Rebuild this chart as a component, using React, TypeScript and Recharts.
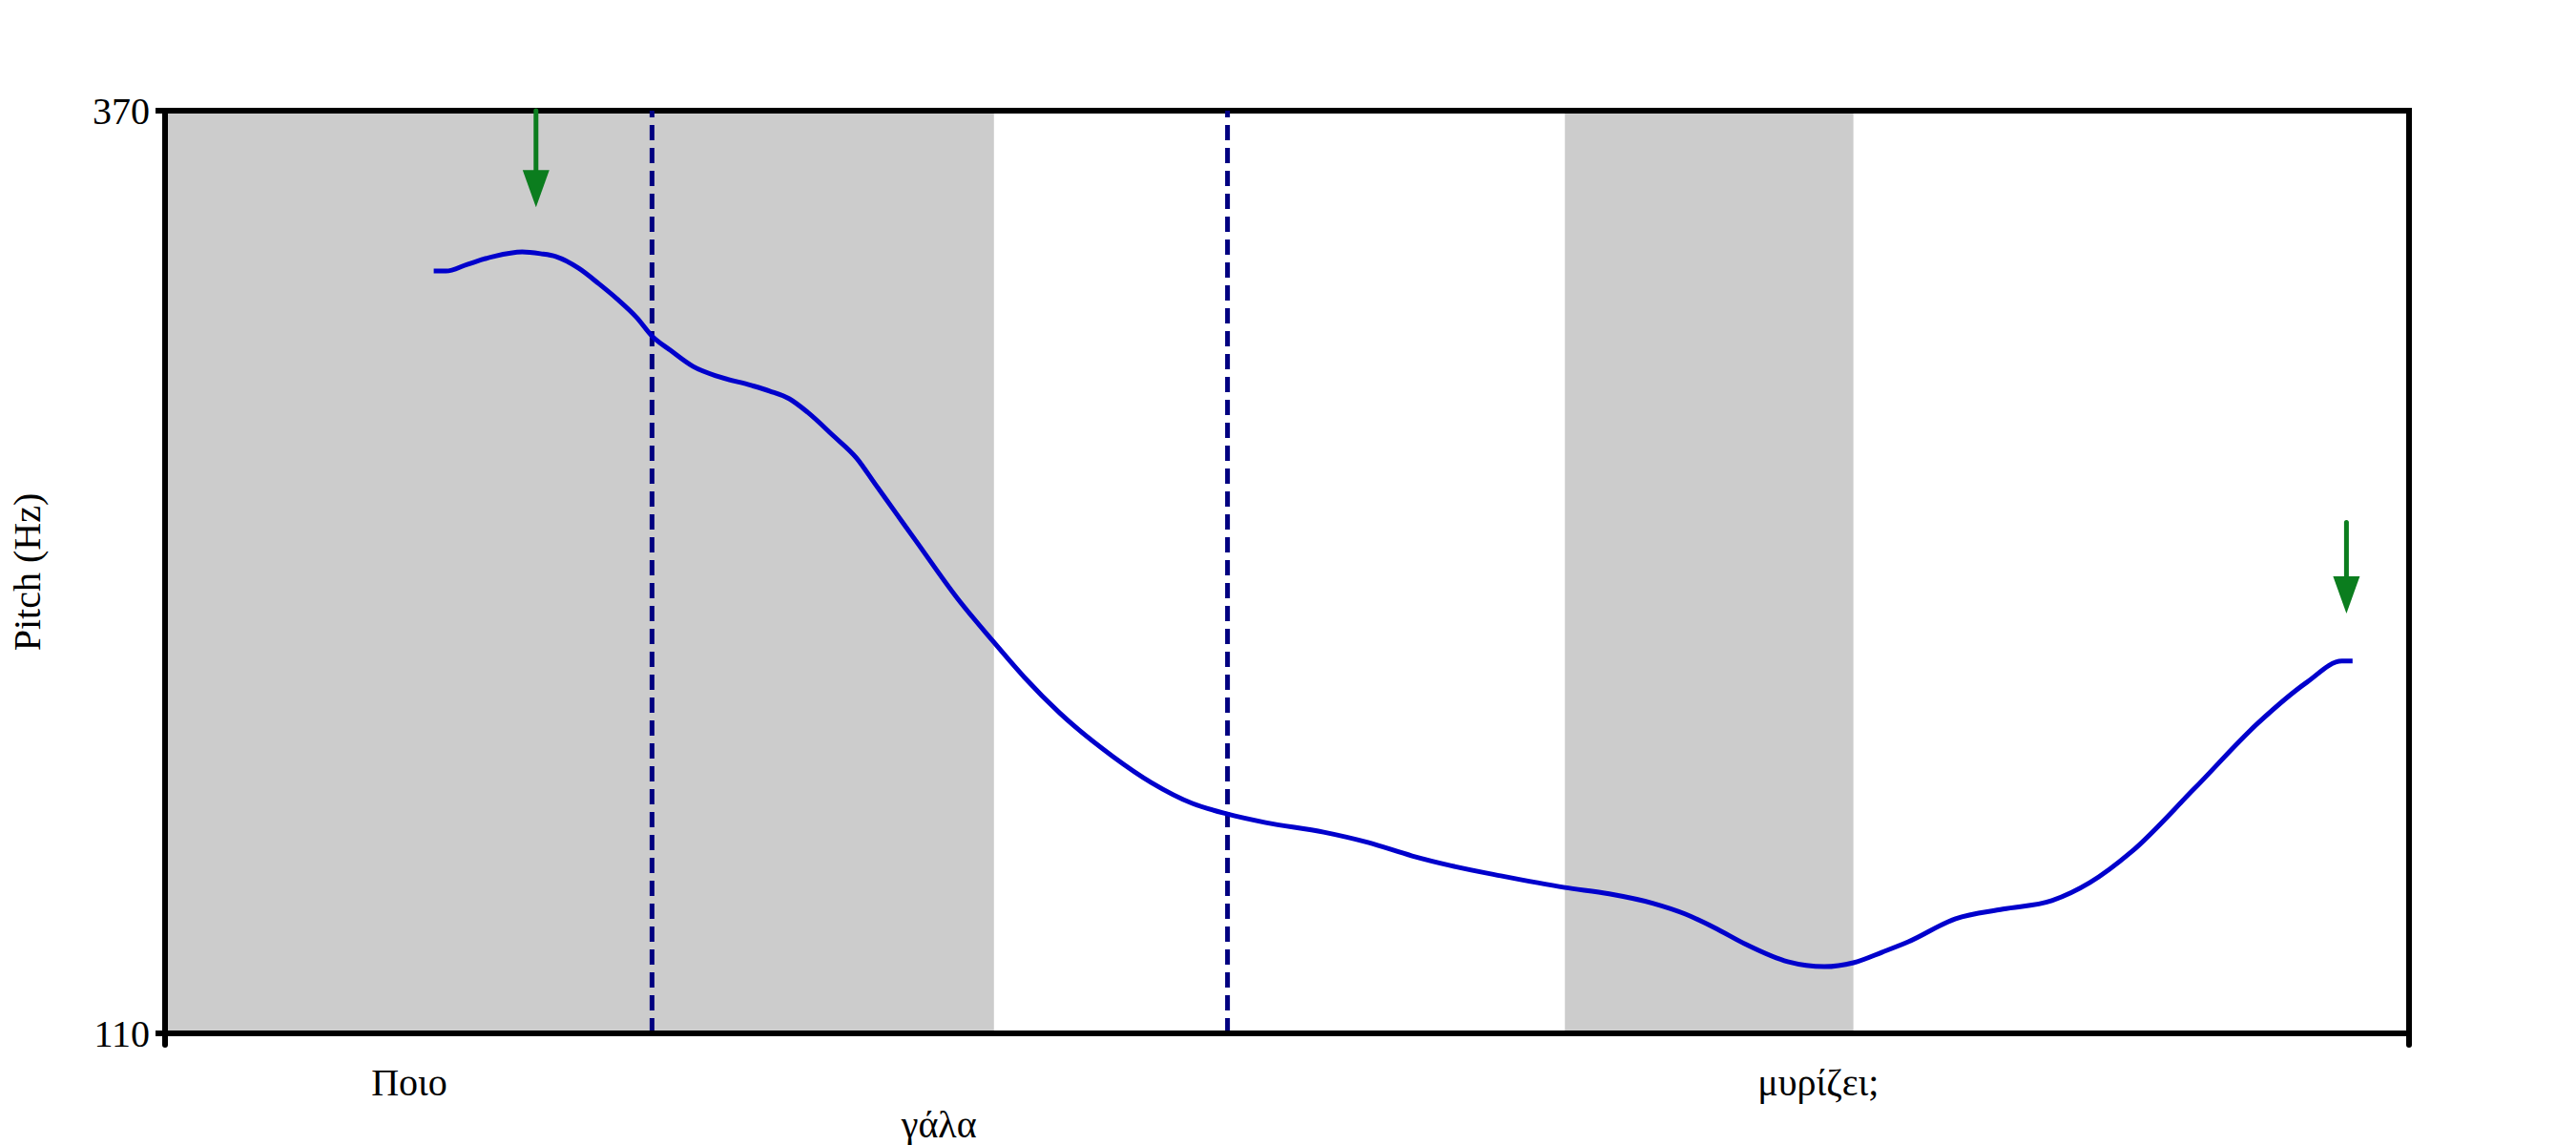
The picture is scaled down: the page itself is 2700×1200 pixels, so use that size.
import React from "react";
import {
  LineChart,
  Line,
  XAxis,
  YAxis,
  ReferenceArea,
  ReferenceLine,
} from "recharts";

// pitch contour, time in ms and f0 in Hz
const TIME = [
  176, 184, 198, 215, 234, 246, 256, 271, 284, 296, 309, 319, 331, 346, 363,
  384, 396, 409, 421, 438, 453, 465, 479, 492, 519, 543, 563, 586, 621, 646,
  673, 696, 721, 759, 788, 817, 842, 875, 917, 946, 975, 996, 1015, 1036, 1063,
  1087, 1106, 1125, 1142, 1173, 1204, 1236, 1261, 1288, 1329, 1371, 1403, 1426,
  1433,
];
const PITCH = [
  324.8, 324.8, 326.7, 328.9, 330.2, 329.7, 328.9, 325.6, 321.3, 317.0, 311.7,
  306.5, 302.5, 297.9, 295.0, 292.6, 291.0, 288.8, 285.0, 278.3, 272.1, 264.9,
  256.5, 248.7, 232.6, 220.2, 210.3, 200.3, 188.0, 180.7, 174.8, 171.8, 169.4,
  166.7, 163.8, 160.0, 157.3, 154.4, 151.1, 149.3, 146.6, 143.6, 139.8, 135.0,
  130.2, 128.8, 129.9, 132.9, 135.8, 142.3, 145.0, 147.4, 152.5, 161.1, 178.8,
  197.4, 208.9, 214.9, 214.9,
];

const T_END = 1470;
const Y_MIN = 110;
const Y_MAX = 370;
const Y_TICKS = [110, 370];
const WORD_LABELS = ["Ποιο", "γάλα", "μυρίζει;"];
const WORD_CENTERS = [160, 507, 1083];
const BOUNDARIES = [319, 696];
const SHADED_START = [0, 917];
const SHADED_END = [543, 1106];
const ARROW_TIMES = [243, 1429];
const ARROW_TOPS = [370, 254];
const ARROW_TIPS = [342.8, 228.3];

const FONT = "'Liberation Serif', 'Times New Roman', serif";

const data = TIME.map((t, i) => ({ t, f0: PITCH[i] }));

const WordTick = (props: any) => {
  const { x, y, payload } = props;
  const v = payload.value;
  if (v === 0 || v === T_END) {
    return (
      <line x1={x} y1={y - 10} x2={x} y2={y + 2} stroke="#000" strokeWidth={6} strokeLinecap="round" />
    );
  }
  const i = WORD_CENTERS.indexOf(v);
  return (
    <text
      x={x}
      y={y + (i === 1 ? 99 : 55)}
      textAnchor="middle"
      fontSize={40}
      fontFamily={FONT}
      fill="#000"
    >
      {WORD_LABELS[i]}
    </text>
  );
};

// shaft plus filled head, tip at the segment's end
const Arrow = (props: any) => {
  const { x1, y1, x2, y2 } = props;
  const head = 39;
  return (
    <g>
      <line x1={x1} y1={y1} x2={x2} y2={y2 - head + 2} stroke="#0b7d1e" strokeWidth={5} strokeLinecap="round" />
      <path
        d={`M${x2 - 14},${y2 - head} L${x2 + 14},${y2 - head} L${x2},${y2} Z`}
        fill="#0b7d1e"
      />
    </g>
  );
};

export default function App() {
  return (
    <div style={{ position: "absolute", left: 0, top: 0, background: "#fff" }}>
      <LineChart
        width={2700}
        height={1200}
        data={data}
        margin={{ top: 116, right: 175, bottom: 0, left: 0 }}
      >
        {SHADED_START.map((s, i) => (
          <ReferenceArea
            key={`shade-${i}`}
            x1={s}
            x2={SHADED_END[i]}
            y1={Y_MIN}
            y2={Y_MAX}
            fill="#cccccc"
            fillOpacity={1}
            stroke="none"
            ifOverflow="visible"
          />
        ))}
        {/* plot frame */}
        <ReferenceArea
          x1={0}
          x2={T_END}
          y1={Y_MIN}
          y2={Y_MAX}
          fill="none"
          fillOpacity={0}
          stroke="#000"
          strokeWidth={6}
          ifOverflow="visible"
        />
        {BOUNDARIES.map((b) => (
          <ReferenceLine
            key={`b-${b}`}
            x={b}
            stroke="#000080"
            strokeWidth={5}
            strokeDasharray="16 8"
          />
        ))}
        <Line
          type="monotone"
          dataKey="f0"
          stroke="#0000cc"
          strokeWidth={5}
          dot={false}
          isAnimationActive={false}
        />
        {ARROW_TIMES.map((t, i) => (
          <ReferenceLine
            key={`a-${i}`}
            segment={[
              { x: t, y: ARROW_TOPS[i] },
              { x: t, y: ARROW_TIPS[i] },
            ]}
            shape={Arrow}
            ifOverflow="visible"
          />
        ))}
        <XAxis
          dataKey="t"
          type="number"
          domain={[0, T_END]}
          ticks={[0, ...WORD_CENTERS, T_END]}
          interval={0}
          tick={<WordTick />}
          tickLine={false}
          tickSize={10}
          tickMargin={0}
          height={117}
          axisLine={{ stroke: "#000", strokeWidth: 6 }}
        />
        <YAxis
          type="number"
          domain={[Y_MIN, Y_MAX]}
          ticks={Y_TICKS}
          interval={0}
          width={173}
          tickSize={10}
          tickMargin={6}
          tickLine={{ stroke: "#000", strokeWidth: 6 }}
          axisLine={{ stroke: "#000", strokeWidth: 6 }}
          tick={{ fill: "#000", fontSize: 40, fontFamily: FONT }}
          label={{
            value: "Pitch (Hz)",
            angle: -90,
            position: "insideLeft",
            offset: 28,
            style: { textAnchor: "middle", fontSize: 40, fontFamily: FONT, fill: "#000" },
          }}
        />
      </LineChart>
    </div>
  );
}
